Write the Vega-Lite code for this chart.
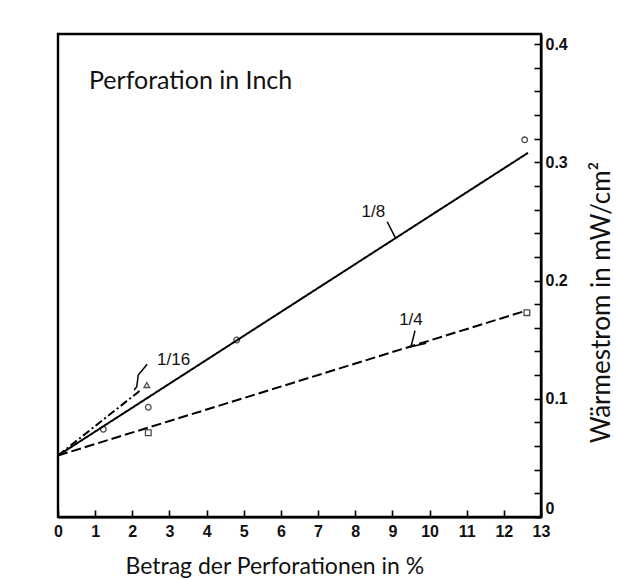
{
  "$schema": "https://vega.github.io/schema/vega-lite/v6.json",
  "width": 483,
  "height": 483,
  "autosize": "none",
  "padding": {"left": 58, "top": 34, "right": 76, "bottom": 63},
  "background": "white",
  "view": {"stroke": "black", "strokeWidth": 2.4},
  "config": {
    "axis": {
      "domainColor": "black",
      "domainWidth": 2,
      "tickColor": "black",
      "tickWidth": 1.6,
      "tickSize": -7,
      "grid": false,
      "labelFont": "Liberation Sans",
      "labelFontWeight": "bold",
      "labelFontSize": 16,
      "labelColor": "#111",
      "labelFlush": false,
      "labelOverlap": false,
      "titleFont": "Lato",
      "titleFontWeight": "normal",
      "titleFontSize": 23,
      "titleColor": "#111"
    }
  },
  "datasets": {
    "curves": [
      {"series": "1/8", "x": 0, "y": 0.052},
      {"series": "1/8", "x": 12.65, "y": 0.308},
      {"series": "1/4", "x": 0, "y": 0.052},
      {"series": "1/4", "x": 12.6, "y": 0.1745},
      {"series": "1/16", "x": 0, "y": 0.052},
      {"series": "1/16", "x": 2.21, "y": 0.107}
    ],
    "points": [
      {"marker": "circle", "x": 1.22, "y": 0.0742},
      {"marker": "circle", "x": 2.43, "y": 0.0928},
      {"marker": "circle", "x": 4.81, "y": 0.1497},
      {"marker": "circle", "x": 12.56, "y": 0.319},
      {"marker": "square", "x": 2.43, "y": 0.0713},
      {"marker": "square", "x": 12.62, "y": 0.1728},
      {"marker": "triangle", "x": 2.39, "y": 0.1116}
    ],
    "leaders": [
      {"id": "1/8", "k": 0, "x": 8.86, "y": 0.2497},
      {"id": "1/8", "k": 1, "x": 9.09, "y": 0.2357},
      {"id": "1/4", "k": 0, "x": 9.61, "y": 0.1576},
      {"id": "1/4", "k": 1, "x": 9.5, "y": 0.144},
      {"id": "1/4", "k": 2, "x": 9.91, "y": 0.1469},
      {"id": "1/16", "k": 0, "x": 2.4, "y": 0.1291},
      {"id": "1/16", "k": 1, "x": 2.16, "y": 0.1201},
      {"id": "1/16", "k": 2, "x": 2.12, "y": 0.1102},
      {"id": "1/16", "k": 3, "x": 2.05, "y": 0.1074}
    ],
    "labels": [
      {"text": "1/8", "x": 8.49, "y": 0.2583},
      {"text": "1/4", "x": 9.5, "y": 0.1666},
      {"text": "1/16", "x": 3.11, "y": 0.1328}
    ],
    "heading": [
      {"text": "Perforation in Inch", "x": 0.834, "y": 0.362}
    ]
  },
  "encoding": {
    "x": {
      "field": "x",
      "type": "quantitative",
      "scale": {"domain": [0, 13], "nice": false},
      "axis": {
        "title": "Betrag der Perforationen in %",
        "values": [0, 1, 2, 3, 4, 5, 6, 7, 8, 9, 10, 11, 12, 13],
        "format": "d",
        "labelPadding": 13,
        "titleX": 67,
        "titleY": 56,
        "titleAlign": "left",
        "titleAnchor": "start",
        "titleBaseline": "alphabetic"
      }
    },
    "y": {
      "field": "y",
      "type": "quantitative",
      "scale": {"domain": [0, 0.4085], "nice": false},
      "axis": {
        "orient": "right",
        "title": "Wärmestrom in mW/cm²",
        "titleFontSize": 26,
        "values": [0, 0.02, 0.04, 0.06, 0.08, 0.1, 0.12, 0.14, 0.16, 0.18, 0.2, 0.22, 0.24, 0.26, 0.28, 0.3, 0.32, 0.34, 0.36, 0.38, 0.4],
        "labelExpr": "(round(datum.value * 100) % 10 == 0) ? (datum.value == 0 ? '0' : format(datum.value, '.1f')) : ''",
        "labelPadding": 11,
        "labelOffset": {"condition": {"test": "datum.value == 0", "value": -9}, "value": 0},
        "titleAngle": 270,
        "titleX": 68,
        "titleY": 268,
        "titleAlign": "center",
        "titleBaseline": "alphabetic"
      }
    }
  },
  "layer": [
    {
      "data": {"name": "curves"},
      "mark": {"type": "line", "color": "black", "strokeWidth": 2, "clip": true},
      "encoding": {
        "detail": {"field": "series"},
        "strokeDash": {
          "field": "series",
          "type": "nominal",
          "scale": {"domain": ["1/8", "1/4", "1/16"], "range": [[1, 0], [10, 4], [8, 3, 2, 3]]},
          "legend": null
        }
      }
    },
    {
      "data": {"name": "leaders"},
      "mark": {"type": "line", "color": "black", "strokeWidth": 1.5},
      "encoding": {
        "detail": {"field": "id"},
        "order": {"field": "k", "type": "quantitative"}
      }
    },
    {
      "data": {"name": "points"},
      "mark": {"type": "point", "filled": false, "color": "black", "strokeWidth": 1.3, "size": 32},
      "encoding": {
        "shape": {
          "field": "marker",
          "type": "nominal",
          "scale": {"domain": ["circle", "square", "triangle"], "range": ["circle", "square", "triangle-up"]},
          "legend": null
        }
      }
    },
    {
      "data": {"name": "labels"},
      "mark": {"type": "text", "font": "Liberation Sans", "fontSize": 17, "color": "#111", "align": "center", "baseline": "middle"},
      "encoding": {
        "text": {"field": "text"}
      }
    },
    {
      "data": {"name": "heading"},
      "mark": {"type": "text", "font": "Lato", "fontSize": 25, "color": "#111", "align": "left", "baseline": "alphabetic"},
      "encoding": {
        "text": {"field": "text"}
      }
    }
  ]
}
